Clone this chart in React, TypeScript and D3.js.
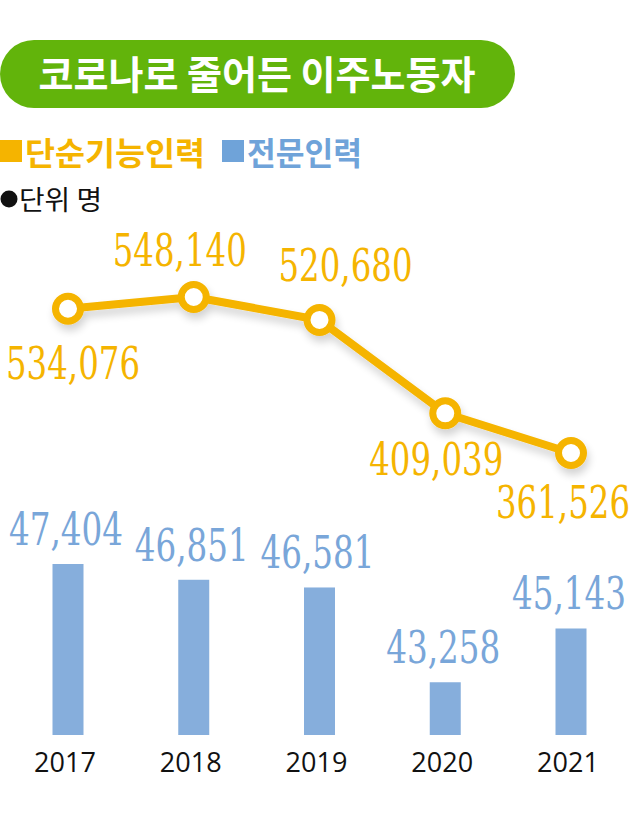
import React from 'react';
import * as d3 from 'd3';

const years = ['2017', '2018', '2019', '2020', '2021'];
const simpleLabor = [534076, 548140, 520680, 409039, 361526];
const professional = [47404, 46851, 46581, 43258, 45143];
// label placement (layout only): [dx, dy] relative to the point
const lineLabelOffsets: [number, number][] = [[5, 70], [-14, -31], [26, -39], [-9, 62], [-8, 65]];

const title = '코로나로 줄어든 이주노동자';
const legendSimple = '단순기능인력';
const legendPro = '전문인력';
const unitText = '단위 명';

const W = 640;
const H = 826;
const ORANGE = '#f5b400';
const BLUE_BAR = '#86aedc';
const BLUE_TEXT = '#79a6d9';
const GREEN = '#62b40b';
const NUM_FONT = '"DejaVu Serif Condensed", "DejaVu Serif", serif';
const KR_FONT = '"Noto Sans CJK KR", "Noto Sans", sans-serif';

export default function App() {
  const x = d3.scalePoint<string>().domain(years).range([68, 571]);
  const yLine = d3.scaleLinear().domain([361526, 548140]).range([453, 297]);
  const baseline = 735;
  const yBar = d3.scaleLinear().domain([41409, 47404]).range([baseline, 564]);
  const fmt = d3.format(',');
  const barW = 31;

  const lineGen = d3
    .line<number>()
    .x((_, i) => x(years[i]) as number)
    .y((d) => yLine(d));

  const numWidth = (s: string) => (s.length >= 7 ? 134 : 114);

  return (
    <svg
      width={W}
      height={H}
      style={{ position: 'absolute', left: 0, top: 0, background: '#fff' }}
    >
      <defs>
        <filter id="sh" x="-20%" y="-20%" width="140%" height="160%">
          <feGaussianBlur in="SourceAlpha" stdDeviation="4" />
          <feOffset dx="2" dy="6" result="b" />
          <feComponentTransfer>
            <feFuncA type="linear" slope="0.18" />
          </feComponentTransfer>
          <feMerge>
            <feMergeNode />
            <feMergeNode in="SourceGraphic" />
          </feMerge>
        </filter>
      </defs>

      {/* title pill */}
      <rect x={0} y={40} width={515} height={68} rx={34} fill={GREEN} />
      <text
        x={257}
        y={89}
        textAnchor="middle"
        fontFamily={KR_FONT}
        fontWeight={700}
        fontSize={39}
        fill="#fff"
        textLength={437}
        lengthAdjust="spacingAndGlyphs"
      >
        {title}
      </text>

      {/* legend */}
      <rect x={0} y={140} width={22} height={22} fill={ORANGE} />
      <text
        x={25}
        y={165}
        fontFamily={KR_FONT}
        fontWeight={700}
        fontSize={32}
        fill={ORANGE}
        textLength={180}
        lengthAdjust="spacingAndGlyphs"
      >
        {legendSimple}
      </text>
      <rect x={222} y={140} width={22} height={22} fill="#6fa3d9" />
      <text
        x={247}
        y={165}
        fontFamily={KR_FONT}
        fontWeight={700}
        fontSize={32}
        fill="#6fa3d9"
        textLength={115}
        lengthAdjust="spacingAndGlyphs"
      >
        {legendPro}
      </text>

      {/* unit */}
      <circle cx={9} cy={199} r={8.5} fill="#111" />
      <text
        x={19}
        y={210}
        fontFamily={KR_FONT}
        fontSize={27}
        fill="#111"
        textLength={83}
        lengthAdjust="spacingAndGlyphs"
      >
        {unitText}
      </text>

      {/* bars */}
      {professional.map((v, i) => (
        <rect
          key={'b' + i}
          x={(x(years[i]) as number) - barW / 2}
          y={yBar(v)}
          width={barW}
          height={baseline - yBar(v)}
          fill={BLUE_BAR}
        />
      ))}
      {professional.map((v, i) => {
        const s = fmt(v);
        return (
          <text
            key={'bl' + i}
            x={(x(years[i]) as number) - 2}
            y={yBar(v) - 19}
            textAnchor="middle"
            fontFamily={NUM_FONT}
            fontSize={44}
            fill={BLUE_TEXT}
            textLength={numWidth(s)}
            lengthAdjust="spacingAndGlyphs"
          >
            {s}
          </text>
        );
      })}

      {/* year labels */}
      {years.map((yr) => (
        <text
          key={'y' + yr}
          x={(x(yr) as number) - 3}
          y={772}
          textAnchor="middle"
          fontFamily='"Open Sans", "Noto Sans", sans-serif'
          fontSize={27}
          fill="#111"
        >
          {yr}
        </text>
      ))}

      {/* line */}
      <g filter="url(#sh)">
        <path
          d={lineGen(simpleLabor) || ''}
          fill="none"
          stroke={ORANGE}
          strokeWidth={8}
          strokeLinejoin="round"
        />
        {simpleLabor.map((v, i) => (
          <circle
            key={'c' + i}
            cx={x(years[i]) as number}
            cy={yLine(v)}
            r={12.5}
            fill="#fff"
            stroke={ORANGE}
            strokeWidth={7}
          />
        ))}
      </g>
      {simpleLabor.map((v, i) => {
        const s = fmt(v);
        const [dx, dy] = lineLabelOffsets[i];
        return (
          <text
            key={'ll' + i}
            x={(x(years[i]) as number) + dx}
            y={yLine(v) + dy}
            textAnchor="middle"
            fontFamily={NUM_FONT}
            fontSize={44}
            fill={ORANGE}
            textLength={numWidth(s)}
            lengthAdjust="spacingAndGlyphs"
          >
            {s}
          </text>
        );
      })}
    </svg>
  );
}
